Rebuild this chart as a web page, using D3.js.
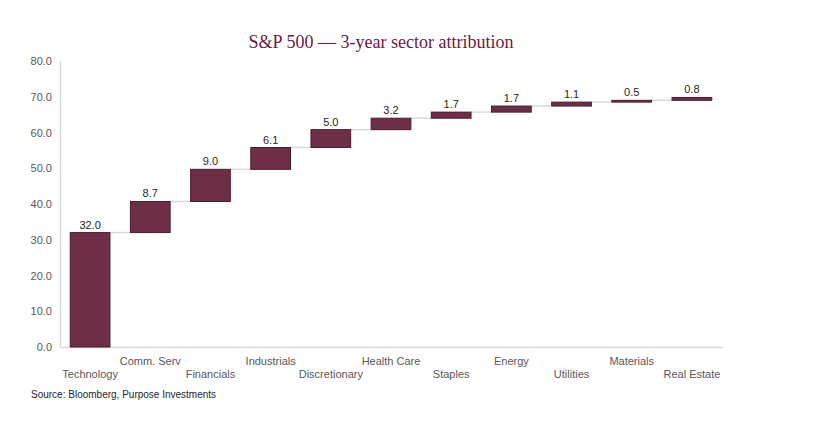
<!DOCTYPE html>
<html>
<head>
<meta charset="utf-8">
<script src="https://cdn.jsdelivr.net/npm/d3@7"></script>
<style>
  body { margin: 0; background: #fff; }
</style>
</head>
<body>
<div id="chart"></div>
<script>
const sectors = ["Technology", "Comm. Serv", "Financials", "Industrials", "Discretionary",
  "Health Care", "Staples", "Energy", "Utilities", "Materials", "Real Estate"];
const contributions = [32.0, 8.7, 9.0, 6.1, 5.0, 3.2, 1.7, 1.7, 1.1, 0.5, 0.8];
const yTicks = [0, 10, 20, 30, 40, 50, 60, 70, 80];

const margin = { top: 61, right: 100, bottom: 78, left: 60 };
const width = 822 - margin.left - margin.right;
const height = 425 - margin.top - margin.bottom;

const svg = d3.select('#chart')
  .append('svg')
  .attr('width', 822)
  .attr('height', 425);

svg.append('text')
  .attr('x', 381)
  .attr('y', 48)
  .attr('text-anchor', 'middle')
  .style('font-family', '"Liberation Serif", "DejaVu Serif", serif')
  .style('font-size', '18px')
  .style('fill', '#6a1b41')
  .text('S\u0026P 500 \u2014 3-year sector attribution');

const g = svg.append('g')
  .attr('transform', `translate(${margin.left}, ${margin.top})`);

// running totals for the waterfall
let total = 0;
const steps = sectors.map((s, i) => {
  const start = total;
  total += contributions[i];
  return { name: s, value: contributions[i], start: start, end: total, i: i };
});

const x = d3.scaleBand()
  .domain(sectors)
  .range([0, width])
  .paddingInner(0.34)
  .paddingOuter(0.17);

const y = d3.scaleLinear()
  .domain([0, 80])
  .range([height, 0]);

// y axis
const yAxis = g.append('g')
  .call(d3.axisLeft(y).tickValues(yTicks).tickFormat(d3.format('.1f')).tickSize(0).tickPadding(8));
yAxis.select('.domain').attr('stroke', '#d9d9d9').attr('stroke-width', 1.5);
yAxis.selectAll('text')
  .style('font-family', '"Liberation Sans", Arial, sans-serif')
  .style('font-size', '11px')
  .style('fill', '#595959');

// x axis, labels staggered on two rows
const xAxis = g.append('g')
  .attr('transform', `translate(0, ${height})`)
  .call(d3.axisBottom(x).tickSize(0).tickPadding(0));
xAxis.select('.domain').attr('stroke', '#d9d9d9').attr('stroke-width', 1.5);
xAxis.selectAll('text')
  .attr('y', (d, i) => i % 2 === 0 ? 27 : 14)
  .attr('dy', '0.32em')
  .style('font-family', '"Liberation Sans", Arial, sans-serif')
  .style('font-size', '11px')
  .style('fill', '#595959');

// connectors
g.selectAll('.connector')
  .data(steps.slice(0, -1))
  .join('line')
  .attr('class', 'connector')
  .attr('x1', d => x(d.name) + x.bandwidth())
  .attr('x2', d => x(sectors[d.i + 1]))
  .attr('y1', d => y(d.end))
  .attr('y2', d => y(d.end))
  .attr('stroke', '#d9d9d9')
  .attr('stroke-width', 1.5);

g.selectAll('.bar')
  .data(steps)
  .join('rect')
  .attr('class', 'bar')
  .attr('x', d => x(d.name))
  .attr('y', d => y(d.end))
  .attr('width', x.bandwidth())
  .attr('height', d => Math.max(y(d.start) - y(d.end), 1))
  .attr('fill', '#6d2f48')
  .attr('stroke', '#4b1a2f')
  .attr('stroke-width', 1);

g.selectAll('.value')
  .data(steps)
  .join('text')
  .attr('class', 'value')
  .attr('x', d => x(d.name) + x.bandwidth() / 2)
  .attr('y', d => y(d.end) - 4)
  .attr('text-anchor', 'middle')
  .style('font-family', '"Liberation Sans", Arial, sans-serif')
  .style('font-size', '11px')
  .style('fill', '#262626')
  .text(d => d.value.toFixed(1));

svg.append('text')
  .attr('x', 31)
  .attr('y', 398)
  .style('font-family', '"Liberation Sans", Arial, sans-serif')
  .style('font-size', '10px')
  .style('fill', '#262626')
  .text('Source: Bloomberg, Purpose Investments');
</script>
</body>
</html>
